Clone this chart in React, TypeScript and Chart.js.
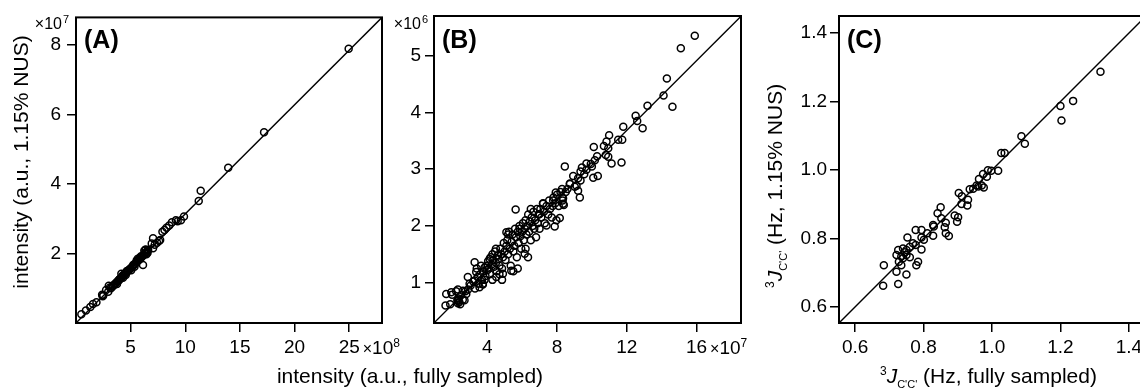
import React, { useEffect, useRef } from 'react';
import { Chart, registerables } from 'chart.js';

Chart.register(...registerables);

const FONT = '"Liberation Sans", Arial, Helvetica, sans-serif';

// ---------------- Panel A (x: ×10^8, y: ×10^7) ----------------
const aX = [24.95, 17.21, 13.93, 11.41, 11.23, 9.88, 9.6, 9.14, 8.78, 8.53, 8.28, 7.91, 7.05, 7.7, 7.42, 6.93, 7.05, 6.38, 6.13, 7.6, 7.2, 6.6, 6.5, 6.4, 6.3, 6.2, 6.1, 6.0, 5.9, 5.8, 5.7, 5.6, 5.5, 5.4, 5.3, 5.2, 5.1, 5.0, 4.9, 4.8, 4.7, 4.6, 4.5, 4.45, 4.35, 4.25, 4.2, 4.1, 4.0, 3.9, 3.8, 3.7, 3.6, 3.5, 3.35, 3.2, 6.35, 4.15, 3.75, 4.55, 5.35, 5.65, 6.45, 5.05, 4.3, 3.4, 6.25, 5.85, 5.55, 3.0, 2.75, 2.39, 2.5, 1.87, 1.56, 1.31, 0.91, 0.49, 6.55, 5.95, 5.25, 4.65, 3.95, 3.1, 2.95, 2.45, 8.1, 9.3];
const aY = [7.9, 5.49, 4.47, 3.81, 3.51, 3.07, 2.96, 2.96, 2.9, 2.81, 2.74, 2.63, 2.44, 2.39, 2.31, 2.29, 2.15, 2.12, 1.67, 2.36, 2.25, 2.1, 2.06, 2.03, 2.0, 1.96, 1.93, 1.9, 1.86, 1.83, 1.8, 1.77, 1.74, 1.7, 1.67, 1.64, 1.6, 1.58, 1.54, 1.52, 1.48, 1.45, 1.43, 1.4, 1.38, 1.36, 1.32, 1.29, 1.27, 1.22, 1.2, 1.16, 1.14, 1.1, 1.05, 1.0, 2.1, 1.42, 1.12, 1.38, 1.62, 1.85, 1.98, 1.52, 1.3, 1.08, 2.08, 1.88, 1.8, 1.07, 0.95, 0.81, 0.8, 0.6, 0.55, 0.46, 0.36, 0.25, 2.02, 1.92, 1.68, 1.5, 1.25, 1.02, 0.9, 0.77, 2.68, 2.93];
const aDiagX = [0, 28];
const aDiagY = [0, 8.8];
const aXTicks = [5, 10, 15, 20, 25];
const aXTickLabels = ['5', '10', '15', '20', '25'];
const aYTicks = [2, 4, 6, 8];
const aYTickLabels = ['2', '4', '6', '8'];

// ---------------- Panel B (x: ×10^7, y: ×10^6) ----------------
const bX = [15.9, 15.1, 14.3, 14.11, 14.62, 13.19, 12.51, 12.6, 12.91, 11.8, 10.99, 11.51, 11.74, 10.84, 10.69, 10.11, 10.94, 10.8, 10.3, 10.94, 11.13, 11.7, 10.17, 9.94, 9.69, 10.0, 9.43, 9.69, 8.45, 9.35, 9.56, 10.08, 10.34, 8.93, 9.21, 9.35, 8.74, 9.02, 9.21, 9.31, 8.29, 8.35, 8.39,
  5.63, 1.61, 1.88, 2.32, 2.7, 1.99, 2.22, 2.61, 2.99, 2.89, 3.28, 3.56, 3.28, 3.75, 3.37, 3.85, 4.14, 4.52, 4.9, 5.38, 5.1, 5.86, 6.34, 6.15, 7.4, 7.87, 8.16, 7.97, 7.01, 7.2, 7.78, 7.93, 8.32, 8.35, 8.74, 9.12, 1.65, 1.94, 2.32, 2.3, 2.35,
  3.05, 3.2, 3.3, 3.45, 3.5, 3.6, 3.7, 3.8, 3.9, 3.95, 3.4, 3.65, 3.75, 3.85, 4.0,
  4.05, 4.1, 4.15, 4.2, 4.25, 4.3, 4.35, 4.4, 4.45, 4.5, 4.55, 4.6, 4.65, 4.7, 4.75, 4.8, 4.85, 4.9, 4.95, 5.0, 4.3, 4.5, 4.7, 4.85,
  5.05, 5.1, 5.15, 5.2, 5.25, 5.3, 5.35, 5.4, 5.45, 5.5, 5.55, 5.6, 5.65, 5.7, 5.75, 5.8, 5.85, 5.9, 5.95, 6.0, 5.5, 5.2, 5.75,
  6.05, 6.1, 6.15, 6.2, 6.25, 6.3, 6.35, 6.4, 6.45, 6.5, 6.55, 6.6, 6.65, 6.7, 6.75, 6.8, 6.85, 6.9, 6.95, 7.0, 6.2, 6.5,
  7.05, 7.1, 7.2, 7.25, 7.3, 7.4, 7.5, 7.55, 7.6, 7.7, 7.75, 7.8, 7.9, 8.0, 8.1, 8.2, 8.3, 8.5, 8.6,
  2.35, 2.4, 2.5, 2.6, 2.75, 2.8, 2.9, 2.3, 2.45];
const bY = [5.35, 5.13, 4.6, 4.3, 4.1, 4.12, 3.94, 3.85, 3.72, 3.75, 3.6, 3.52, 3.52, 3.49, 3.41, 3.39, 3.37, 3.25, 3.23, 3.22, 3.1, 3.12, 3.16, 3.09, 3.1, 3.05, 3.03, 2.99, 3.05, 2.96, 2.91, 2.85, 2.88, 2.88, 2.84, 2.8, 2.75, 2.69, 2.62, 2.5, 2.65, 2.49, 2.37,
  2.29, 0.6, 0.62, 0.64, 0.69, 0.79, 0.85, 0.86, 0.98, 1.1, 1.04, 0.92, 1.36, 0.97, 1.19, 1.27, 1.42, 1.1, 1.16, 1.21, 1.89, 1.95, 1.45, 1.51, 2.01, 1.99, 2.14, 2.1, 2.21, 2.39, 2.45, 2.59, 2.45, 2.39, 2.74, 2.71, 0.8, 0.83, 0.88, 0.7, 0.68,
  0.95, 1.02, 0.9, 1.1, 0.98, 1.15, 1.05, 1.2, 1.12, 1.3, 1.25, 1.3, 0.98, 1.05, 1.22,
  1.38, 1.25, 1.15, 1.45, 1.32, 1.05, 1.4, 1.28, 1.55, 1.35, 1.2, 1.48, 1.42, 1.3, 1.6, 1.5, 1.25, 1.45, 1.7, 1.55, 1.5, 1.6, 1.15, 1.05,
  1.4, 1.65, 1.75, 1.5, 1.9, 1.6, 1.3, 1.72, 1.85, 1.55, 1.65, 1.95, 1.8, 1.45, 1.9, 1.7, 2.0, 1.82, 1.6, 1.9, 1.2, 1.85, 1.25,
  2.05, 1.75, 1.95, 2.1, 1.85, 2.0, 2.2, 1.9, 2.08, 1.75, 2.15, 2.0, 2.25, 1.95, 2.1, 1.8, 2.3, 2.05, 2.2, 1.95, 1.6, 2.3,
  2.3, 2.15, 2.4, 2.25, 2.05, 2.35, 2.2, 2.45, 2.3, 2.15, 2.35, 2.5, 2.4, 2.55, 2.35, 2.6, 2.5, 2.6, 2.65,
  0.72, 0.66, 0.78, 0.7, 0.85, 0.8, 0.88, 0.68, 0.62];
const bDiagX = [0.95, 18.55];
const bDiagY = [0.2917, 5.695];
const bXTicks = [4, 8, 12, 16];
const bXTickLabels = ['4', '8', '12', '16'];
const bYTicks = [1, 2, 3, 4, 5];
const bYTickLabels = ['1', '2', '3', '4', '5'];

// ---------------- Panel C (Hz) ----------------
const cX = [1.317, 1.237, 1.2, 1.203, 1.086, 1.096, 1.027, 1.037, 1.018, 0.998, 0.988, 0.974, 0.985, 0.962, 0.976, 0.96, 0.935, 0.945, 0.903, 0.912, 0.93, 0.911, 0.928, 0.891, 0.901, 0.898, 0.85, 0.841, 0.852, 0.865, 0.862, 0.865, 0.874, 0.828, 0.828, 0.811, 0.794, 0.777, 0.794, 0.801, 0.794, 0.777, 0.769, 0.753, 0.76, 0.75, 0.74, 0.726, 0.721, 0.735, 0.75, 0.76, 0.74, 0.728, 0.735, 0.721, 0.75, 0.726, 0.684, 0.682, 0.784, 0.779, 0.97, 0.955, 0.83, 0.745];
const cY = [1.287, 1.202, 1.187, 1.145, 1.099, 1.077, 1.05, 1.05, 0.998, 0.998, 0.999, 0.988, 0.98, 0.974, 0.949, 0.952, 0.944, 0.945, 0.933, 0.923, 0.913, 0.901, 0.896, 0.867, 0.862, 0.849, 0.891, 0.874, 0.859, 0.846, 0.833, 0.815, 0.807, 0.839, 0.808, 0.815, 0.825, 0.825, 0.803, 0.796, 0.768, 0.781, 0.786, 0.803, 0.776, 0.766, 0.771, 0.766, 0.752, 0.747, 0.752, 0.745, 0.742, 0.732, 0.722, 0.703, 0.695, 0.667, 0.722, 0.662, 0.732, 0.722, 0.955, 0.955, 0.835, 0.76];
const cDiagX = [0.553, 1.45];
const cDiagY = [0.553, 1.45];
const cXTicks = [0.6, 0.8, 1.0, 1.2, 1.4];
const cXTickLabels = ['0.6', '0.8', '1.0', '1.2', '1.4'];
const cYTicks = [0.6, 0.8, 1.0, 1.2, 1.4];
const cYTickLabels = ['0.6', '0.8', '1.0', '1.2', '1.4'];

const H = 389;
const PLOT_TOP = 16;
const PLOT_BOTTOM = 323;
const TICK_SIZE = 19;
const TITLE_SIZE = 21;

type Seg = { t: string; font: string; dy?: number };

function drawSegs(ctx: CanvasRenderingContext2D, segs: Seg[], x: number, y: number) {
  let cx = x;
  for (const s of segs) {
    ctx.font = s.font;
    ctx.fillText(s.t, cx, y + (s.dy || 0));
    cx += ctx.measureText(s.t).width;
  }
  return cx - x;
}
function segsWidth(ctx: CanvasRenderingContext2D, segs: Seg[]) {
  let w = 0;
  for (const s of segs) {
    ctx.font = s.font;
    w += ctx.measureText(s.t).width;
  }
  return w;
}

interface Panel {
  key: string;
  left: number;
  width: number;
  plotLeft: number;
  plotRight: number;
  xMin: number; xMax: number; yMin: number; yMax: number;
  xs: number[]; ys: number[];
  diagX: number[]; diagY: number[];
  xTicks: number[]; xLabels: string[];
  yTicks: number[]; yLabels: string[];
  yPad: number;
  label: string;
  decor: (chart: any, ctx: CanvasRenderingContext2D) => void;
}

function bottomExponent(chart: any, ctx: CanvasRenderingContext2D, p: Panel, exp: string) {
  const xs = chart.scales.x;
  const i = p.xTicks.length - 1;
  const px = xs.getPixelForValue(p.xTicks[i]);
  ctx.font = `${TICK_SIZE}px ${FONT}`;
  const w = ctx.measureText(p.xLabels[i]).width;
  ctx.textAlign = 'left';
  ctx.textBaseline = 'alphabetic';
  drawSegs(ctx, [
    { t: '\u00d7', font: `16px ${FONT}` },
    { t: '10', font: `${TICK_SIZE}px ${FONT}` },
    { t: exp, font: `12px ${FONT}`, dy: -7 },
  ], px + w / 2 + 3, 354);
}

function topExponent(ctx: CanvasRenderingContext2D, rightX: number, exp: string) {
  ctx.textBaseline = 'alphabetic';
  ctx.textAlign = 'left';
  const segs: Seg[] = [
    { t: '\u00d710', font: `16px ${FONT}` },
  ];
  const w = segsWidth(ctx, segs);
  drawSegs(ctx, segs, rightX - w, 28.5);
  ctx.font = `11px ${FONT}`;
  ctx.fillText(exp, rightX + 1, 23);
}

const panels: Panel[] = [
  {
    key: 'A', left: 0, width: 560, plotLeft: 76, plotRight: 382,
    xMin: 0, xMax: 28, yMin: 0, yMax: 8.8,
    xs: aX, ys: aY, diagX: aDiagX, diagY: aDiagY,
    xTicks: aXTicks, xLabels: aXTickLabels, yTicks: aYTicks, yLabels: aYTickLabels,
    yPad: 6, label: '(A)',
    decor: (chart, ctx) => {
      const p = panels[0];
      bottomExponent(chart, ctx, p, '8');
      topExponent(ctx, 62, '7');
      ctx.save();
      ctx.font = `${TITLE_SIZE}px ${FONT}`;
      ctx.textAlign = 'center';
      ctx.textBaseline = 'alphabetic';
      ctx.translate(28, 162);
      ctx.rotate(-Math.PI / 2);
      ctx.fillText('intensity (a.u., 1.15% NUS)', 0, 0);
      ctx.restore();
      ctx.font = `${TITLE_SIZE}px ${FONT}`;
      ctx.textAlign = 'center';
      ctx.textBaseline = 'alphabetic';
      ctx.fillText('intensity (a.u., fully sampled)', 410, 383);
    },
  },
  {
    key: 'B', left: 390, width: 410, plotLeft: 434, plotRight: 741,
    xMin: 0.95, xMax: 18.55, yMin: 0.29, yMax: 5.7,
    xs: bX, ys: bY, diagX: bDiagX, diagY: bDiagY,
    xTicks: bXTicks, xLabels: bXTickLabels, yTicks: bYTicks, yLabels: bYTickLabels,
    yPad: 4, label: '(B)',
    decor: (chart, ctx) => {
      const p = panels[1];
      bottomExponent(chart, ctx, p, '7');
      topExponent(ctx, 421 - 390, '6');
    },
  },
  {
    key: 'C', left: 760, width: 400, plotLeft: 839, plotRight: 1146,
    xMin: 0.553, xMax: 1.45, yMin: 0.553, yMax: 1.45,
    xs: cX, ys: cY, diagX: cDiagX, diagY: cDiagY,
    xTicks: cXTicks, xLabels: cXTickLabels, yTicks: cYTicks, yLabels: cYTickLabels,
    yPad: 3, label: '(C)',
    decor: (chart, ctx) => {
      const L = 760;
      const mk = (rest: string): Seg[] => [
        { t: '3', font: `12px ${FONT}`, dy: -8 },
        { t: 'J', font: `italic ${TITLE_SIZE}px ${FONT}` },
        { t: "C'C'", font: `11px ${FONT}`, dy: 5 },
        { t: ' ' + rest, font: `${TITLE_SIZE}px ${FONT}` },
      ];
      ctx.textAlign = 'left';
      ctx.textBaseline = 'alphabetic';
      drawSegs(ctx, mk('(Hz, fully sampled)'), 880 - L, 383);
      ctx.save();
      ctx.translate(782 - L, 288);
      ctx.rotate(-Math.PI / 2);
      drawSegs(ctx, mk('(Hz, 1.15% NUS)'), 0, 0);
      ctx.restore();
    },
  },
];

function makeConfig(p: Panel): any {
  const padR = p.left + p.width - p.plotRight;
  const yAxisW = p.plotLeft - p.left;
  return {
    type: 'scatter',
    data: {
      datasets: [
        {
          data: p.diagX.map((x, i) => ({ x, y: p.diagY[i] })),
          showLine: true,
          borderColor: '#000',
          borderWidth: 1.4,
          pointRadius: 0,
          pointHoverRadius: 0,
        },
        {
          data: p.xs.map((x, i) => ({ x, y: p.ys[i] })),
          pointStyle: 'circle',
          pointRadius: 3.5,
          pointBorderWidth: 1.5,
          borderColor: '#000',
          backgroundColor: 'rgba(0,0,0,0)',
          showLine: false,
        },
      ],
    },
    options: {
      animation: false,
      responsive: false,
      maintainAspectRatio: false,
      events: [],
      layout: { padding: { left: 0, top: PLOT_TOP, right: padR, bottom: 0 } },
      plugins: {
        legend: { display: false },
        tooltip: { enabled: false },
        title: { display: false },
      },
      scales: {
        x: {
          type: 'linear',
          position: 'bottom',
          min: p.xMin,
          max: p.xMax,
          afterBuildTicks: (s: any) => { s.ticks = p.xTicks.map((v) => ({ value: v })); },
          afterFit: (s: any) => { s.height = H - PLOT_BOTTOM; },
          ticks: {
            callback: (_v: any, i: number) => p.xLabels[i],
            font: { family: FONT, size: TICK_SIZE },
            color: '#000',
            padding: 4,
            maxRotation: 0,
            autoSkip: false,
          },
          grid: { display: true, drawOnChartArea: false, drawTicks: true, tickLength: 9, color: '#000', lineWidth: 1.5 },
          border: { display: false },
        },
        y: {
          type: 'linear',
          position: 'left',
          min: p.yMin,
          max: p.yMax,
          afterBuildTicks: (s: any) => { s.ticks = p.yTicks.map((v) => ({ value: v })); },
          afterFit: (s: any) => { s.width = yAxisW; },
          ticks: {
            callback: (_v: any, i: number) => p.yLabels[i],
            font: { family: FONT, size: TICK_SIZE },
            color: '#000',
            padding: p.yPad,
            autoSkip: false,
          },
          grid: { display: true, drawOnChartArea: false, drawTicks: true, tickLength: 9, color: '#000', lineWidth: 1.5 },
          border: { display: false },
        },
      },
    },
    plugins: [
      {
        id: 'decor' + p.key,
        afterDraw: (chart: any) => {
          const ctx: CanvasRenderingContext2D = chart.ctx;
          const a = chart.chartArea;
          ctx.save();
          ctx.strokeStyle = '#000';
          ctx.lineWidth = 2;
          ctx.strokeRect(a.left, a.top, a.right - a.left, a.bottom - a.top);
          ctx.fillStyle = '#000';
          ctx.font = `bold 25px ${FONT}`;
          ctx.textAlign = 'left';
          ctx.textBaseline = 'alphabetic';
          ctx.fillText(p.label, a.left + 8, 48);
          p.decor(chart, ctx);
          ctx.restore();
        },
      },
    ],
  };
}

function PanelCanvas({ p }: { p: Panel }) {
  const ref = useRef<HTMLCanvasElement | null>(null);
  useEffect(() => {
    if (!ref.current) return;
    const chart = new Chart(ref.current, makeConfig(p));
    return () => chart.destroy();
  }, [p]);
  return (
    <canvas
      ref={ref}
      width={p.width}
      height={H}
      style={{ position: 'absolute', left: p.left, top: 0, width: p.width, height: H }}
    />
  );
}

export default function App() {
  return (
    <div
      style={{
        position: 'absolute',
        left: 0,
        top: 0,
        width: 1140,
        height: H,
        overflow: 'hidden',
        background: '#fff',
      }}
    >
      {panels.map((p) => (
        <PanelCanvas key={p.key} p={p} />
      ))}
    </div>
  );
}
